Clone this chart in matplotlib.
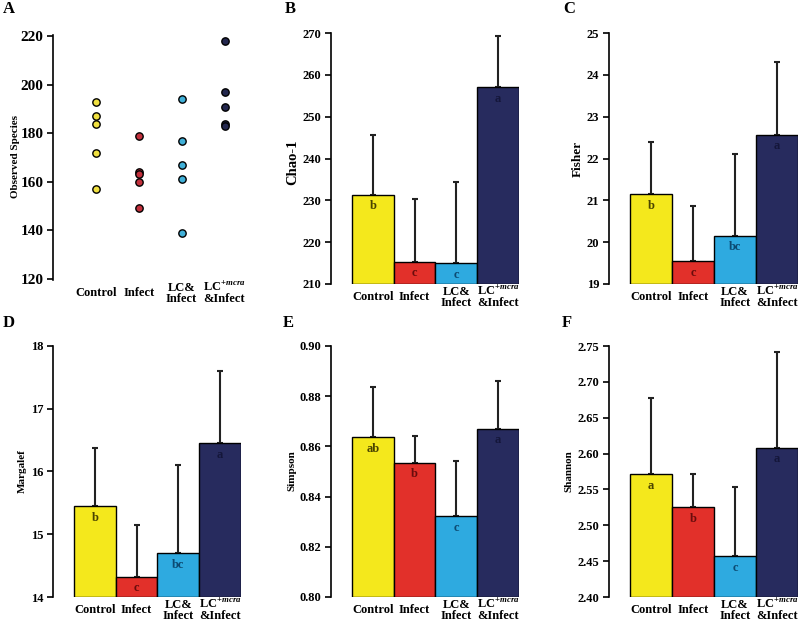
import matplotlib
matplotlib.use("Agg")
import matplotlib.pyplot as plt

plt.rcParams['font.family'] = ['Liberation Serif', 'DejaVu Serif']
plt.rcParams['font.weight'] = 'bold'
plt.rcParams['mathtext.fontset'] = 'custom'
plt.rcParams['mathtext.rm'] = 'Liberation Serif:bold'
plt.rcParams['mathtext.it'] = 'Liberation Serif:italic:bold'

groups = ['Control', 'Infect', 'LC&\nInfect', 'LC$^{+mcra}$\n&Infect']
bar_colors = ['#f4e81c', '#e2302a', '#2eaae0', '#272b5e']
dot_colors = ['#f0e040', '#c2303c', '#40b0d8', '#23274e']
letter_colors = ['#4a4400', '#6a0c0c', '#0c4a72', '#14163a']

# panel A: observed species per sample
obs_control = [193, 187, 184, 172, 157]
obs_infect = [179, 164, 163, 160, 149]
obs_lc = [194, 177, 167, 161, 139]
obs_lcmcra = [218, 197, 191, 184, 183]
observed = [obs_control, obs_infect, obs_lc, obs_lcmcra]

# bar panels: mean, upper error, letters
chao_mean = [231.3, 215.3, 215.0, 257.0]
chao_err = [14.2, 15.0, 19.3, 12.3]
chao_sig = ['b', 'c', 'c', 'a']

fisher_mean = [21.15, 19.55, 20.15, 22.57]
fisher_err = [1.25, 1.32, 1.95, 1.73]
fisher_sig = ['b', 'c', 'bc', 'a']

marg_mean = [15.45, 14.32, 14.70, 16.45]
marg_err = [0.92, 0.83, 1.40, 1.15]
marg_sig = ['b', 'c', 'bc', 'a']

simp_mean = [0.8637, 0.8535, 0.8322, 0.8670]
simp_err = [0.0198, 0.0108, 0.0218, 0.0190]
simp_sig = ['ab', 'b', 'c', 'a']

shan_mean = [2.571, 2.525, 2.457, 2.608]
shan_err = [0.107, 0.046, 0.097, 0.134]
shan_sig = ['a', 'b', 'c', 'a']

W, H = 800, 621
fig = plt.figure(figsize=(8, 6.21), dpi=100)


def make_ax(x0, x1, ytop, ybot):
    return fig.add_axes([x0 / W, 1 - ybot / H, (x1 - x0) / W, (ybot - ytop) / H])


def style(ax, ylim, yticks, fmt, ysize=9):
    ax.set_xlim(-1, 3.5)
    ax.set_ylim(*ylim)
    for s in ['top', 'right', 'bottom']:
        ax.spines[s].set_visible(False)
    ax.spines['left'].set_linewidth(1.2)
    ax.set_yticks(yticks)
    ax.set_yticklabels([fmt.format(t) for t in yticks])
    ax.tick_params(axis='y', direction='out', length=4, width=1.2, labelsize=ysize, pad=3)
    ax.set_xticks(range(4))
    ax.set_xticklabels(groups, fontsize=9, linespacing=0.9)
    ax.tick_params(axis='x', length=0, pad=9.5)
    for lab in ax.get_xticklabels():
        lab.set_va('center')
    ax.patch.set_visible(False)


def bar_panel(ax, means, errs, sig, ylim, yticks, fmt):
    ax.bar(range(4), [m - ylim[0] for m in means], width=1.0, bottom=ylim[0],
           color=bar_colors, edgecolor='black', linewidth=1, zorder=2)
    ax.errorbar(range(4), means, yerr=[[0] * 4, errs], fmt='none', ecolor='#222222',
                elinewidth=1.5, capsize=2, capthick=1.5, zorder=1)
    for i, (m, s) in enumerate(zip(means, sig)):
        ax.annotate(s, (i, m), xytext=(0, -4), textcoords='offset points', ha='center',
                    va='top', fontsize=9, fontweight='bold', color=letter_colors[i], zorder=3)
    style(ax, ylim, yticks, fmt)


# A
axA = make_ax(53, 246, 35, 280)
for i, vals in enumerate(observed):
    axA.scatter([i] * len(vals), vals, s=28, color=dot_colors[i], edgecolor='black',
                linewidth=1, zorder=3)
style(axA, (120, 220), [120, 140, 160, 180, 200, 220], '{:d}', ysize=11)
axA.set_ylim(119.5, 220.5)

# B
axB = make_ax(331, 519, 33, 284)
bar_panel(axB, chao_mean, chao_err, chao_sig, (210, 270), [210, 220, 230, 240, 250, 260, 270], '{:d}')

# C
axC = make_ax(609, 798, 33, 284)
bar_panel(axC, fisher_mean, fisher_err, fisher_sig, (19, 25), [19, 20, 21, 22, 23, 24, 25], '{:d}')

# D
axD = make_ax(53, 241, 346, 597)
bar_panel(axD, marg_mean, marg_err, marg_sig, (14, 18), [14, 15, 16, 17, 18], '{:d}')

# E
axE = make_ax(331, 519, 346, 597)
bar_panel(axE, simp_mean, simp_err, simp_sig, (0.80, 0.90), [0.80, 0.82, 0.84, 0.86, 0.88, 0.90], '{:.2f}')

# F
axF = make_ax(609, 798, 346, 597)
bar_panel(axF, shan_mean, shan_err, shan_sig, (2.40, 2.75),
          [2.40, 2.45, 2.50, 2.55, 2.60, 2.65, 2.70, 2.75], '{:.2f}')

# y labels
ylabels = [('Observed Species', 16, 157, 8), ('Chao-1', 293, 162, 10.5), ('Fisher', 578, 159, 9.5),
           ('Margalef', 22, 471, 8), ('Simpson', 292, 471, 8), ('Shannon', 569, 471, 8)]
for txt, x, y, fs in ylabels:
    fig.text(x / W, 1 - y / H, txt, rotation=90, ha='center', va='center',
             fontsize=fs, fontweight='bold')

# panel letters
for txt, x, y in [('A', 3, 9), ('B', 285, 9), ('C', 563, 9),
                  ('D', 3, 323), ('E', 283, 323), ('F', 562, 323)]:
    fig.text(x / W, 1 - y / H, txt, ha='left', va='center', fontsize=12, fontweight='bold')

fig.savefig('out.png', dpi=100)
